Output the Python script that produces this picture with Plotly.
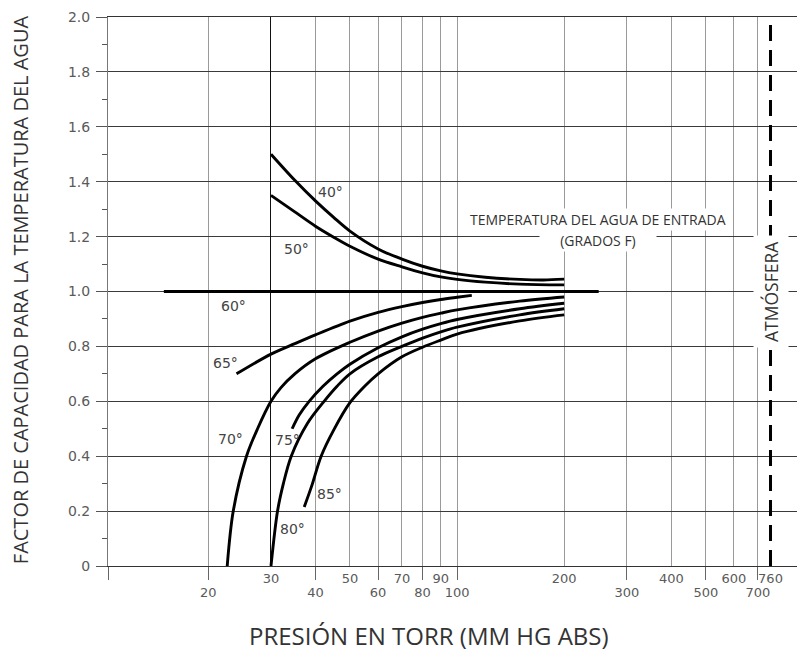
import numpy as np
import plotly.graph_objects as go

# ---------------- axis definitions ----------------
pressure_ticks = [20, 30, 40, 50, 60, 70, 80, 90, 100, 200, 300, 400, 500, 600, 700, 760]
upper_label_ticks = [30, 50, 70, 90, 200, 400, 600, 760]
lower_label_ticks = [20, 40, 60, 80, 100, 300, 500, 700]
grid_pressures = [20, 30, 40, 50, 60, 70, 80, 90, 100, 200, 300, 400, 500, 600, 700]
dark_grid_pressures = [30]
atm_pressure = 760
x_min, x_max = 10.45, 950

factor_ticks = [0, 0.2, 0.4, 0.6, 0.8, 1.0, 1.2, 1.4, 1.6, 1.8, 2.0]
factor_tick_labels = ["0", "0.2", "0.4", "0.6", "0.8", "1.0", "1.2", "1.4", "1.6", "1.8", "2.0"]
factor_minor_ticks = [0.1, 0.3, 0.5, 0.7, 0.9, 1.1, 1.3, 1.5, 1.7, 1.9]

# ---------------- curve data (pressure torr, capacity factor) ----------------
p_40 = [30, 35, 40, 45, 50, 60, 70, 80, 90, 100, 120, 150, 175, 200]
f_40 = [1.50, 1.405, 1.33, 1.27, 1.22, 1.155, 1.118, 1.092, 1.075, 1.064, 1.052, 1.044, 1.042, 1.045]

p_50 = [30, 35, 40, 45, 50, 60, 70, 80, 90, 100, 120, 150, 200]
f_50 = [1.35, 1.29, 1.238, 1.198, 1.165, 1.118, 1.09, 1.068, 1.053, 1.044, 1.034, 1.027, 1.024]

p_60 = [15, 250]
f_60 = [1.0, 1.0]

p_65 = [24, 30, 35, 40, 50, 60, 70, 80, 90, 100, 110]
f_65 = [0.70, 0.772, 0.81, 0.842, 0.892, 0.924, 0.945, 0.96, 0.971, 0.979, 0.986]

p_70 = [22.6, 23.5, 25.6, 27.5, 30, 32, 35, 40, 50, 60, 70, 80, 90, 100, 150, 200]
f_70 = [0.0, 0.2, 0.4, 0.5, 0.6, 0.65, 0.70, 0.755, 0.815, 0.856, 0.885, 0.906, 0.921, 0.933, 0.965, 0.98]

p_75 = [34.4, 36, 38.4, 42, 46, 50, 60, 70, 80, 90, 100, 150, 200]
f_75 = [0.50, 0.55, 0.60, 0.655, 0.70, 0.735, 0.795, 0.835, 0.863, 0.883, 0.898, 0.937, 0.957]

p_80 = [30, 31.3, 32.5, 34.2, 38, 42.3, 46, 50, 60, 70, 80, 90, 100, 150, 200]
f_80 = [0.0, 0.2, 0.3, 0.4, 0.52, 0.6, 0.655, 0.70, 0.762, 0.80, 0.83, 0.853, 0.87, 0.915, 0.937]

p_85 = [37.2, 39, 41.5, 45, 50, 55, 60, 70, 80, 90, 100, 150, 200]
f_85 = [0.215, 0.29, 0.40, 0.495, 0.595, 0.655, 0.70, 0.762, 0.797, 0.823, 0.845, 0.893, 0.915]

curve_names = ["40°", "50°", "60°", "65°", "70°", "75°", "80°", "85°"]
curve_p = [p_40, p_50, p_60, p_65, p_70, p_75, p_80, p_85]
curve_f = [f_40, f_50, f_60, f_65, f_70, f_75, f_80, f_85]

label_p = [44, 35.3, 23.5, 22.4, 23.1, 33.4, 34.5, 43.9]
label_f = [1.364, 1.155, 0.949, 0.738, 0.461, 0.459, 0.133, 0.261]

atm_factor = [0, 2.0]

# ---------------- styling ----------------
TICK_FONT = dict(family="DejaVu Sans", size=14, color="#5a5a5a")
XTICK_FONT = dict(family="DejaVu Sans", size=13, color="#5a5a5a")
TITLE_FONT = "Open Sans"

fig = go.Figure()

for name, p, f in zip(curve_names, curve_p, curve_f):
    fig.add_trace(go.Scatter(
        x=p, y=f, mode="lines", name=name,
        line=dict(color="black", width=3.2 if name == "60°" else 2.9,
                  shape="spline", smoothing=0.9),
        hoverinfo="skip", showlegend=False, xaxis="x", yaxis="y"))

# atmosphere dashed line
fig.add_trace(go.Scatter(
    x=[atm_pressure, atm_pressure], y=atm_factor, mode="lines",
    line=dict(color="black", width=3, dash="16px,9px"),
    hoverinfo="skip", showlegend=False, xaxis="x2", yaxis="y"))

# empty anchors for the overlay axes
for ax in ["x3", "x4"]:
    fig.add_trace(go.Scatter(x=[], y=[], mode="lines", showlegend=False,
                             hoverinfo="skip", xaxis=ax, yaxis="y"))

xr = [np.log10(x_min), np.log10(x_max)]

common_x = dict(type="log", range=xr, zeroline=False, fixedrange=True,
                automargin=False, ticklabeloverflow="allow")

fig.update_layout(
    width=797, height=650,
    margin=dict(l=100, r=0, t=9, b=92),
    paper_bgcolor="white", plot_bgcolor="white",
    xaxis=dict(**common_x, tickmode="array", tickvals=grid_pressures,
               showticklabels=False, ticks="", showgrid=True,
               gridcolor="#9a9a9a", gridwidth=1,
               showline=True, mirror=True, linecolor="#333333", linewidth=1),
    xaxis2=dict(**common_x, overlaying="x", anchor="y", side="bottom",
                tickmode="array", tickvals=upper_label_ticks,
                ticktext=[str(v) for v in upper_label_ticks],
                ticks="", showgrid=False, showline=False,
                tickfont=XTICK_FONT, ticklabelstandoff=3),
    xaxis3=dict(**common_x, overlaying="x", anchor="y", side="bottom",
                tickmode="array", tickvals=dark_grid_pressures,
                showticklabels=False, ticks="", showgrid=True,
                gridcolor="#111111", gridwidth=1, showline=False),
    xaxis4=dict(**common_x, overlaying="x", anchor="y", side="bottom",
                tickmode="array", tickvals=[x_min] + lower_label_ticks,
                ticktext=[""] + [str(v) for v in lower_label_ticks],
                ticks="outside", ticklen=13, tickwidth=1, tickcolor="#666666",
                showgrid=False, showline=False, tickfont=XTICK_FONT,
                ticklabelstandoff=1),
    yaxis=dict(range=[0, 2.0], tickmode="array", tickvals=factor_ticks,
               ticktext=factor_tick_labels, tickfont=TICK_FONT,
               ticks="outside", ticklen=11, tickwidth=1, tickcolor="#555555",
               showgrid=True, gridcolor="#3a3a3a", gridwidth=1,
               showline=True, linecolor="#777777", linewidth=1,
               zeroline=False, fixedrange=True, ticklabelstandoff=3,
               automargin=False, ticklabeloverflow="allow",
               minor=dict(tickmode="array", tickvals=factor_minor_ticks,
                          ticks="outside", ticklen=5, tickcolor="#555555",
                          showgrid=False)),
)

annotations = []
for name, lp, lf in zip(curve_names, label_p, label_f):
    annotations.append(dict(x=np.log10(lp), y=lf, xref="x", yref="y",
                            text=name, showarrow=False, xanchor="center", yanchor="middle",
                            font=dict(family="DejaVu Sans", size=14, color="#444444")))

annotations.append(dict(x=np.log10(atm_pressure), y=1.0, xref="x", yref="y",
                        text="ATMÓSFERA", textangle=-90, showarrow=False,
                        xanchor="center", yanchor="middle",
                        bgcolor="white", borderpad=5,
                        font=dict(family=TITLE_FONT, size=17.5, color="#333333")))

annotations.append(dict(x=0.703, y=1.262, xref="paper", yref="y",
                        text="TEMPERATURA DEL AGUA DE ENTRADA", showarrow=False,
                        xanchor="center", yanchor="middle",
                        bgcolor="white", borderpad=1,
                        font=dict(family=TITLE_FONT, size=14, color="#333333")))
annotations.append(dict(x=0.703, y=1.187, xref="paper", yref="y",
                        text="(GRADOS F)", showarrow=False, width=114,
                        xanchor="center", yanchor="middle",
                        bgcolor="white", borderpad=1,
                        font=dict(family=TITLE_FONT, size=14, color="#333333")))

annotations.append(dict(x=0.4605, y=-0.1257, xref="paper", yref="paper",
                        text="PRESIÓN EN TORR (MM HG ABS)", showarrow=False,
                        xanchor="center", yanchor="middle",
                        font=dict(family=TITLE_FONT, size=24, color="#333333")))
annotations.append(dict(x=-0.126, y=0.5027, xref="paper", yref="paper",
                        text="FACTOR DE CAPACIDAD PARA LA TEMPERATURA DEL AGUA",
                        textangle=-90, showarrow=False,
                        xanchor="center", yanchor="middle",
                        font=dict(family=TITLE_FONT, size=20, color="#333333")))

fig.update_layout(annotations=annotations)

fig.write_html("out.html")
